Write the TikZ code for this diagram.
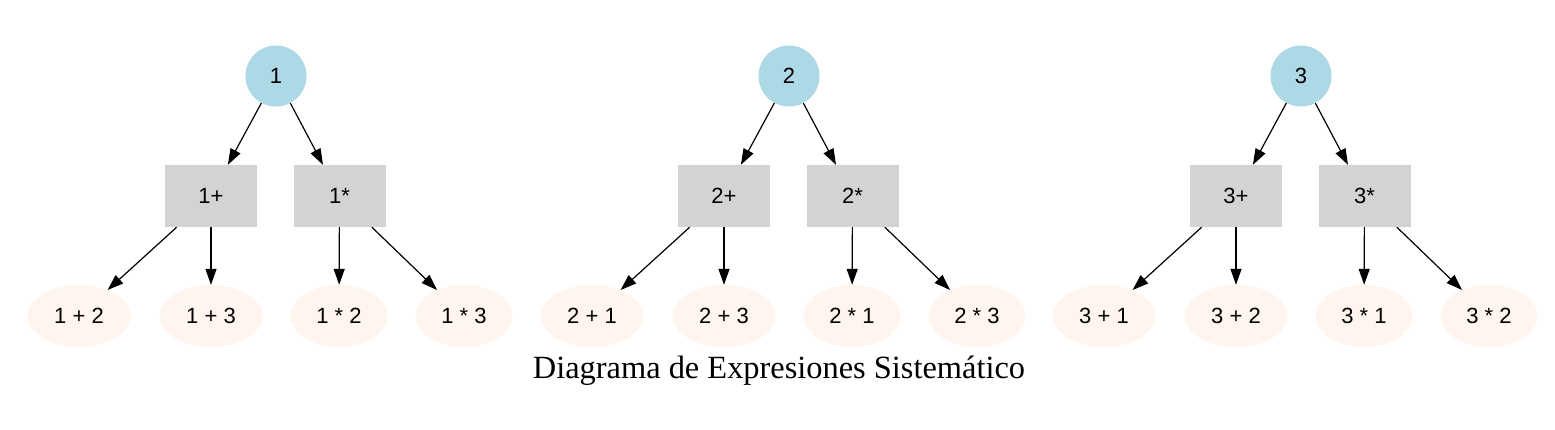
\documentclass[tikz,border=0pt]{standalone}
\usepackage{fontspec}
\setmainfont{Liberation Serif}
\newfontfamily\nodefont{Liberation Sans}
\usetikzlibrary{arrows.meta,shapes.geometric}
\definecolor{rootblue}{HTML}{ADD8E6}
\definecolor{boxgray}{HTML}{D3D3D3}
\definecolor{leafshell}{HTML}{FFF5EE}
\tikzset{
  rootnode/.style={circle,fill=rootblue,minimum size=61pt,inner sep=0pt,font=\nodefont\fontsize{22}{26}\selectfont},
  opbox/.style={rectangle,fill=boxgray,minimum width=92pt,minimum height=62pt,inner sep=0pt,font=\nodefont\fontsize{22}{26}\selectfont},
  leafplus/.style={ellipse,fill=leafshell,minimum width=103pt,minimum height=62pt,inner sep=0pt,font=\nodefont\fontsize{22}{26}\selectfont},
  leaftimes/.style={ellipse,fill=leafshell,minimum width=97pt,minimum height=62pt,inner sep=0pt,font=\nodefont\fontsize{22}{26}\selectfont},
  edge/.style={draw=black,line width=1.2pt,-{Triangle[length=16pt,width=11pt]}}
}
\begin{document}
\begin{tikzpicture}[x=1pt,y=-1pt]
\useasboundingbox (0,0) rectangle (1555,429);
\foreach \n/\a/\b/\ox in {1/2/3/0, 2/1/3/513, 3/1/2/1025}{
  \node[rootnode] (r\n) at (\ox+276,76) {\n};
  \node[opbox] (p\n) at (\ox+211,196) {\n+};
  \node[opbox] (t\n) at (\ox+339.5,196) {\n*};
  \node[leafplus] (pa\n) at (\ox+79,316) {\n{} + \a};
  \node[leafplus] (pb\n) at (\ox+211,316) {\n{} + \b};
  \node[leaftimes] (ta\n) at (\ox+339,316) {\n{} * \a};
  \node[leaftimes] (tb\n) at (\ox+464,316) {\n{} * \b};
  \draw[edge] (r\n) -- (p\n);
  \draw[edge] (r\n) -- (t\n);
  \draw[edge] (p\n) -- (pa\n);
  \draw[edge] (p\n) -- (pb\n);
  \draw[edge] (t\n) -- (ta\n);
  \draw[edge] (t\n) -- (tb\n);
}
\node[anchor=base,font=\fontsize{32.4}{36}\selectfont] (title) at (779,378) {Diagrama de Expresiones Sistemático};
\end{tikzpicture}
\end{document}
